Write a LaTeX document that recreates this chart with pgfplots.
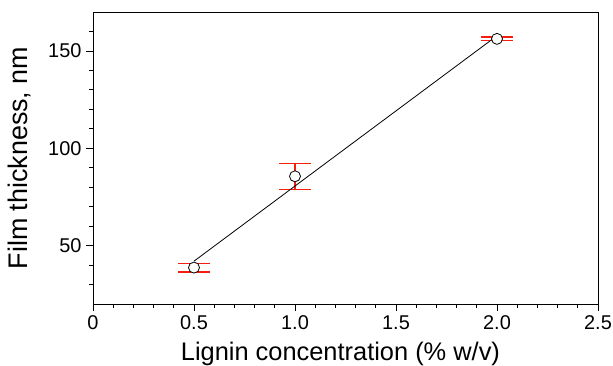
\documentclass[border=0pt]{standalone}
\usepackage{fontspec}
\setmainfont{Liberation Sans}
\usepackage{pgfplots}
\pgfplotsset{compat=1.18}
\definecolor{errred}{RGB}{245,30,15}
\begin{document}
\begin{tikzpicture}
\begin{axis}[
  scale only axis,
  width=505bp, height=292bp,
  xmin=0, xmax=2.5, ymin=20, ymax=170,
  axis line style={line width=0.8bp},
  xtick={0,0.5,1.0,1.5,2.0,2.5},
  xticklabels={0,0.5,1.0,1.5,2.0,2.5},
  minor x tick num=4,
  ytick={50,100,150},
  minor ytick={30,40,60,70,80,90,110,120,130,140,160},
  tick align=outside,
  xtick pos=bottom, ytick pos=left,
  major tick length=7bp, minor tick length=4bp,
  tick style={line width=0.8bp, black},
  /pgf/number format/assume math mode=true,
  tick label style={font=\fontsize{20}{22}\selectfont},
  xticklabel style={yshift=-1bp},
  yticklabel style={xshift=-1bp},
  xlabel={Lignin concentration (\% w/v)},
  ylabel={Film thickness, nm},
  xlabel style={font=\fontsize{25.5}{28}\selectfont, at={(axis description cs:0.49,-0.195)}, anchor=base},
  ylabel style={font=\fontsize{27}{30}\selectfont, at={(axis description cs:-0.145,0.5)}, anchor=center},
  clip=false,
]
% error bars: vertical segments and caps (mean +- error)
\addplot[draw=errred, line width=1.2bp, mark=none, forget plot, empty line=jump] table {
x y
0.5 36.4
0.5 41.0

0.42 36.4
0.58 36.4

0.42 41.0
0.58 41.0

1.0 78.9
1.0 92.3

0.92 78.9
1.08 78.9

0.92 92.3
1.08 92.3

2.0 155.2
2.0 157.2

1.92 155.2
2.08 155.2

1.92 157.2
2.08 157.2
};
% linear fit line
\addplot[black, line width=0.8bp, mark=none] coordinates {(0.5,42.0) (2.0,157.8)};
% data points
\addplot[black, only marks, mark=*, mark size=5.5bp, mark options={draw=black, fill=white, line width=0.8bp}]
  coordinates {(0.5,38.7) (1.0,85.6) (2.0,156.2)};
\end{axis}
\pgfresetboundingbox
\path[use as bounding box] (current axis.south west) ++(-93bp,-62bp) rectangle ([shift={(15bp,12bp)}]current axis.north east);
\end{tikzpicture}
\end{document}
